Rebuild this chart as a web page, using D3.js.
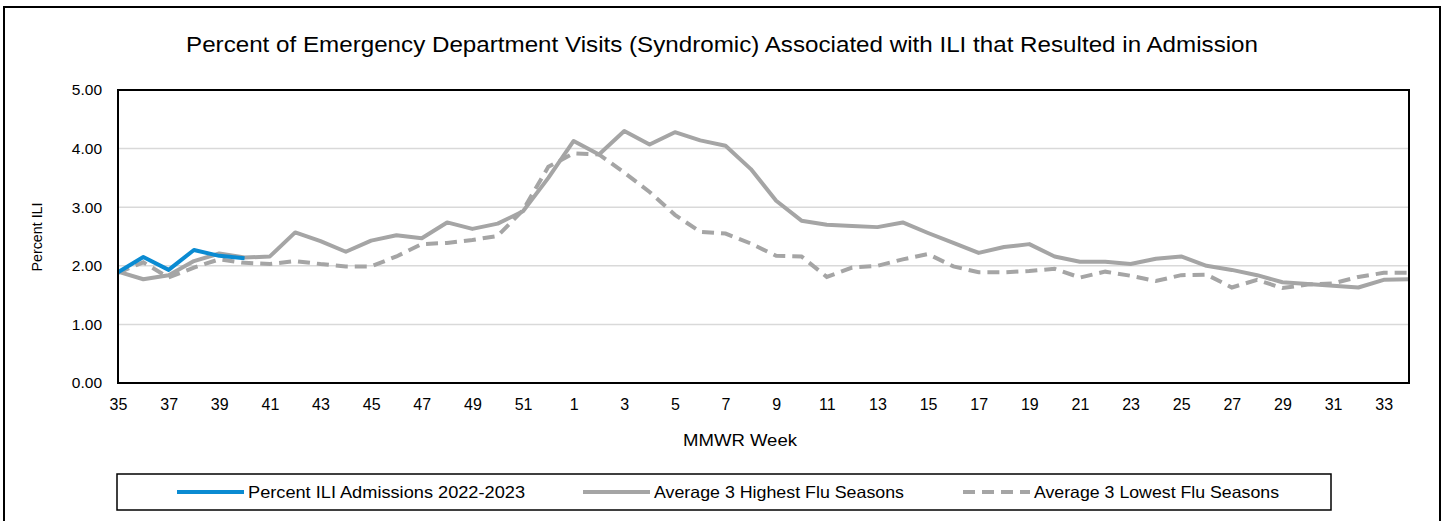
<!DOCTYPE html>
<html>
<head>
<meta charset="utf-8">
<script src="https://cdn.jsdelivr.net/npm/d3@7"></script>
<style>
  body { margin: 0; background: #fff; }
  svg text { font-family: "Liberation Sans", Arial, sans-serif; fill: #000; }
  .domain { display: none; }
</style>
</head>
<body>
<svg width="1444" height="521"></svg>
<script>
// MMWR weeks, season runs week 35 through week 34
const weeks = [35,36,37,38,39,40,41,42,43,44,45,46,47,48,49,50,51,52,
  1,2,3,4,5,6,7,8,9,10,11,12,13,14,15,16,17,18,19,20,21,22,23,24,25,26,27,28,29,30,31,32,33,34];

const current = [1.89, 2.15, 1.93, 2.27, 2.17, 2.13];

const highest = [1.90,1.77,1.84,2.08,2.21,2.14,2.16,2.57,2.42,2.24,2.43,2.52,2.47,2.74,2.63,2.72,2.93,3.50,
  4.13,3.90,4.30,4.07,4.28,4.14,4.05,3.65,3.11,2.77,2.70,2.68,2.66,2.74,2.56,2.39,2.22,2.32,2.37,2.16,
  2.07,2.07,2.03,2.12,2.16,2.00,1.93,1.84,1.72,1.69,1.66,1.63,1.76,1.77];

const lowest = [1.88,2.06,1.80,1.97,2.11,2.05,2.03,2.08,2.03,1.99,1.99,2.16,2.37,2.39,2.44,2.51,2.95,3.69,
  3.92,3.90,3.59,3.26,2.87,2.58,2.55,2.38,2.17,2.16,1.81,1.97,2.00,2.11,2.20,1.99,1.89,1.89,1.91,1.95,
  1.80,1.90,1.83,1.74,1.84,1.85,1.63,1.76,1.62,1.68,1.70,1.81,1.88,1.88];

const yTicks = [0, 1, 2, 3, 4, 5];
const xTicks = weeks.filter((w, i) => i % 2 === 0);

const seriesNames = ["Percent ILI Admissions 2022-2023", "Average 3 Highest Flu Seasons", "Average 3 Lowest Flu Seasons"];

const plot = { left: 118, right: 1409, top: 90, bottom: 383 };

const svg = d3.select("svg");

// outer frame
svg.append("rect")
  .attr("x", 4).attr("y", 7)
  .attr("width", 1436).attr("height", 540)
  .attr("fill", "none").attr("stroke", "#000").attr("stroke-width", 2);

// title
svg.append("text")
  .attr("x", 722).attr("y", 52)
  .attr("text-anchor", "middle")
  .attr("font-size", 22.5)
  .attr("textLength", 1072)
  .attr("lengthAdjust", "spacingAndGlyphs")
  .text("Percent of Emergency Department Visits (Syndromic) Associated with ILI that Resulted in Admission");

// scales
const x = d3.scalePoint()
  .domain(weeks)
  .range([plot.left, plot.right]);

const y = d3.scaleLinear()
  .domain([0, 5])
  .range([plot.bottom, plot.top]);

// gridlines
svg.append("g")
  .selectAll("line")
  .data(yTicks.slice(1, -1))
  .join("line")
  .attr("x1", plot.left).attr("x2", plot.right)
  .attr("y1", d => y(d)).attr("y2", d => y(d))
  .attr("stroke", "#d9d9d9").attr("stroke-width", 1.5);

// Y axis
const yAxis = svg.append("g")
  .attr("transform", `translate(${plot.left},0)`)
  .call(d3.axisLeft(y).tickValues(yTicks).tickFormat(d3.format(".2f")).tickSize(0).tickPadding(16));
yAxis.selectAll(".tick text").attr("font-size", 15.5).attr("font-family", "Liberation Sans, Arial, sans-serif");

// X axis
const xAxis = svg.append("g")
  .attr("transform", `translate(0,${plot.bottom})`)
  .call(d3.axisBottom(x).tickValues(xTicks).tickSize(0).tickPadding(16));
xAxis.selectAll(".tick text").attr("font-size", 16).attr("font-family", "Liberation Sans, Arial, sans-serif");

// axis titles
svg.append("text")
  .attr("transform", "translate(42,237) rotate(-90)")
  .attr("text-anchor", "middle")
  .attr("font-size", 15.5)
  .attr("textLength", 69)
  .attr("lengthAdjust", "spacingAndGlyphs")
  .text("Percent ILI");

svg.append("text")
  .attr("x", 740).attr("y", 446)
  .attr("text-anchor", "middle")
  .attr("font-size", 16.5)
  .attr("textLength", 114)
  .attr("lengthAdjust", "spacingAndGlyphs")
  .text("MMWR Week");

// lines
const line = d3.line()
  .x((d, i) => x(weeks[i]))
  .y(d => y(d));

const gray = "#a5a5a5";
const blue = "#0a8bd2";

svg.append("path")
  .datum(lowest)
  .attr("d", line)
  .attr("fill", "none")
  .attr("stroke", gray).attr("stroke-width", 4)
  .attr("stroke-dasharray", "12,7");

svg.append("path")
  .datum(highest)
  .attr("d", line)
  .attr("fill", "none")
  .attr("stroke", gray).attr("stroke-width", 4)
  .attr("stroke-linejoin", "round");

svg.append("path")
  .datum(current)
  .attr("d", line)
  .attr("fill", "none")
  .attr("stroke", blue).attr("stroke-width", 4)
  .attr("stroke-linejoin", "round");

// plot border
svg.append("rect")
  .attr("x", plot.left).attr("y", plot.top)
  .attr("width", plot.right - plot.left).attr("height", plot.bottom - plot.top)
  .attr("fill", "none").attr("stroke", "#000").attr("stroke-width", 2);

// legend
svg.append("rect")
  .attr("x", 117).attr("y", 474)
  .attr("width", 1214).attr("height", 36)
  .attr("fill", "none").attr("stroke", "#000").attr("stroke-width", 1.5);

const legendItems = [
  { name: seriesNames[0], color: blue, dash: null, x0: 177, w: 277 },
  { name: seriesNames[1], color: gray, dash: null, x0: 583, w: 250 },
  { name: seriesNames[2], color: gray, dash: "12,7", x0: 963, w: 245 }
];

const lg = svg.append("g")
  .selectAll("g")
  .data(legendItems)
  .join("g");

lg.append("line")
  .attr("x1", d => d.x0).attr("x2", d => d.x0 + 67)
  .attr("y1", 492).attr("y2", 492)
  .attr("stroke", d => d.color).attr("stroke-width", 4)
  .attr("stroke-dasharray", d => d.dash);

lg.append("text")
  .attr("x", d => d.x0 + 71).attr("y", 498)
  .attr("font-size", 16.5)
  .attr("textLength", d => d.w)
  .attr("lengthAdjust", "spacingAndGlyphs")
  .text(d => d.name);
</script>
</body>
</html>
